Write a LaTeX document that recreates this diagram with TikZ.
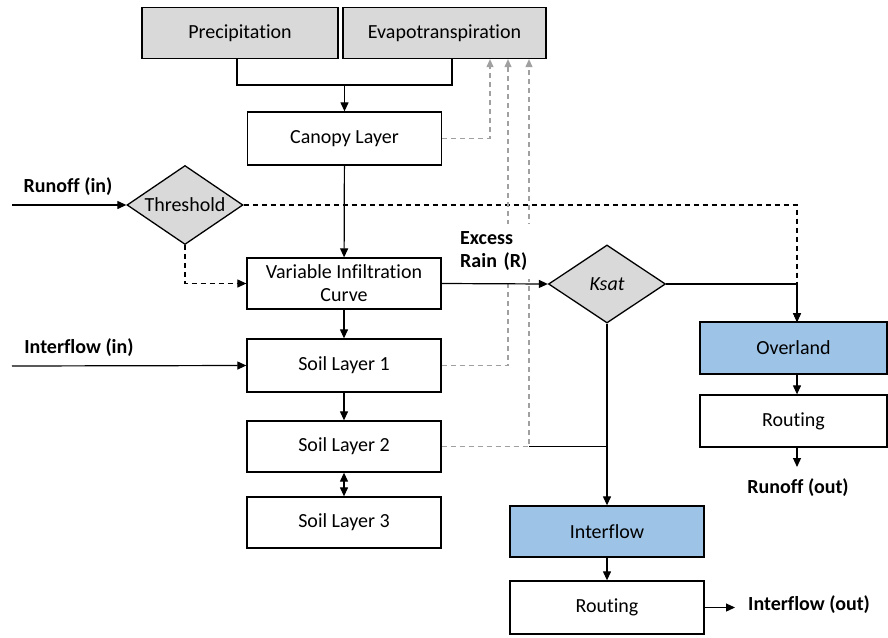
\documentclass[tikz,border=0pt]{standalone}
\usepackage{fontspec}
\setmainfont{Carlito}[Ligatures=NoCommon]
\usetikzlibrary{arrows.meta,shapes.geometric}
\definecolor{boxgray}{HTML}{D9D9D9}
\definecolor{boxblue}{HTML}{9DC3E6}
\definecolor{linegray}{HTML}{A0A0A0}

\begin{document}
\begin{tikzpicture}[x=1pt,y=-1pt,
  every node/.style={font=\fontsize{20}{23}\selectfont},
  box/.style={draw, line width=1.3pt, minimum width=194pt, minimum height=52pt,
    inner sep=2pt, align=center},
  graybox/.style={box, fill=boxgray},
  bluebox/.style={box, fill=boxblue},
  decision/.style={diamond, draw, line width=1.3pt, fill=boxgray, inner sep=0pt},
  lbl/.style={inner sep=0pt, font=\fontsize{20}{23}\selectfont\bfseries},
  flow/.style={line width=1.2pt, -{Triangle[length=9pt,width=8pt]}},
  plain/.style={line width=1.2pt},
  dflow/.style={flow, dashed, dash pattern=on 5pt off 4pt},
  gflow/.style={line width=1.2pt, linegray, dash pattern=on 5pt off 4pt,
    -{Triangle[length=8pt,width=7pt]}}]

\useasboundingbox (0,0) rectangle (888,637);

% inputs on top
\node[graybox, minimum width=196pt, minimum height=51pt] (prec) at (240,33) {Precipitation};
\node[graybox, minimum width=203pt, minimum height=51pt] (evap) at (444.5,33) {Evapotranspiration};

% vertical column of layers
\node[box, minimum height=53pt] (canopy) at (344.5,138.5) {Canopy Layer};
\node[box, minimum height=51pt] (vic) at (344,283.5) {Variable Infiltration\\Curve};
\node[box, minimum height=53pt] (soil1) at (344,365.5) {Soil Layer 1};
\node[box, minimum height=51pt] (soil2) at (344,446.5) {Soil Layer 2};
\node[box, minimum height=51pt] (soil3) at (344,522.5) {Soil Layer 3};

% decisions
\node[decision, minimum width=116pt, minimum height=79pt, label=center:Threshold] (thr) at (185,205) {};
\node[decision, minimum width=117pt, minimum height=78pt, label=center:\textit{Ksat}] (ksat) at (607,284) {};

% output branches
\node[bluebox, minimum width=187pt, minimum height=52pt] (ovl) at (793.5,348) {Overland};
\node[box, minimum width=187pt, minimum height=52pt] (rt2) at (793.5,421) {Routing};
\node[bluebox, minimum height=51pt] (intf) at (607,531.5) {Interflow};
\node[box, minimum height=53pt] (rt1) at (607,607.5) {Routing};

% helper points
\coordinate (jn) at (344.5,85);
\coordinate (rinstart) at (12,205);
\coordinate (iinstart) at (12,366);
\coordinate (ovltop) at (797,322);
\coordinate (rend) at (797,467);
\coordinate (s2tap) at (529,446.5);
\coordinate (iend) at (735,607.5);

% precipitation and evapotranspiration into canopy
\draw[plain] ([xshift=-3pt]prec.south) |- (jn) -| ([xshift=7.5pt]evap.south);
\draw[flow] (jn) -- (canopy.north);

% main column
\draw[flow] (canopy) -- (vic);
\draw[flow] (vic) -- (soil1);
\draw[flow] (soil1) -- (soil2);
\draw[line width=1.2pt, {Triangle[length=9pt,width=8pt]}-{Triangle[length=9pt,width=8pt]}] (soil2) -- (soil3);

% runoff input through threshold
\draw[flow] (rinstart) -- (thr.west);
\draw[dflow] (thr.south) |- (vic.west);
\draw[dflow] (thr.east) -| (ovltop);

% interflow input
\draw[flow] (iinstart) -- (soil1.west);

% evapotranspiration returns
\draw[gflow] (canopy.east) -| ([xshift=45.5pt]evap.south);
\draw[gflow] (soil1.east) -| ([xshift=63.5pt]evap.south);
\draw[gflow] (soil2.east) -| ([xshift=84.5pt]evap.south);

% excess rain and saturated conductivity split
\draw[flow] (vic.east) -- (ksat.west);
\draw[flow] (ksat.east) -| (ovltop);
\draw[flow] (ksat.south) -- (intf.north);
\draw[plain] (s2tap) -- (s2tap -| intf.north);

% routing
\draw[flow] (ovl.south -| ovltop) -- (rt2.north -| ovltop);
\draw[flow] (rt2.south -| rend) -- (rend);
\draw[flow] (intf) -- (rt1);
\draw[flow] (rt1.east) -- (iend);

% text labels (the excess rain label masks the lines behind it)
\node[lbl] (runin) at (68,187) {Runoff (in)};
\node[lbl] (ifin) at (79,348) {Interflow (in)};
\node[lbl, fill=white, text width=72pt, align=left, inner xsep=4pt, inner ysep=8pt,
  anchor=west] (excess) at (456,251) {Excess\\Rain (R)};
\node[lbl] (runout) at (798,488) {Runoff (out)};
\node[lbl, anchor=west] (ifout) at (748,605) {Interflow (out)};

\end{tikzpicture}
\end{document}
